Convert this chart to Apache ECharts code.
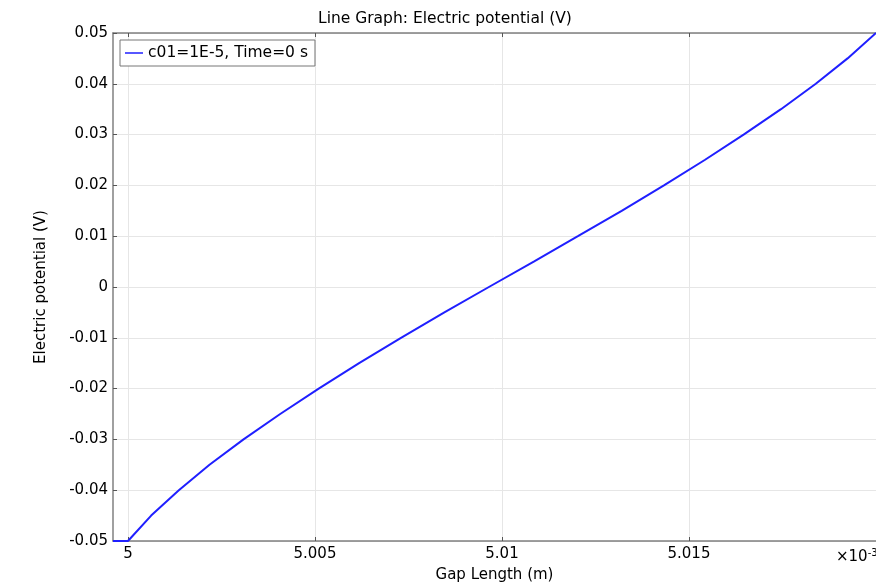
<!DOCTYPE html>
<html>
<head>
<meta charset="utf-8">
<script src="https://cdn.jsdelivr.net/npm/echarts@6/dist/echarts.min.js"></script>
<style>
  html, body { margin: 0; padding: 0; background: #fff; }
  #chart { width: 876px; height: 582px; }
</style>
</head>
<body>
<div id="chart"></div>
<script>
// gap length, in units of 1e-3 m
var gapLength = [4.9996, 5.00000, 5.00062, 5.00136, 5.00218, 5.00309, 5.00407, 5.00510, 5.00618, 5.00730,
                 5.00846, 5.00965, 5.01085, 5.01203, 5.01320, 5.01433, 5.01542, 5.01646, 5.01746, 5.01839,
                 5.01924, 5.02000];
// electric potential (V)
var potential = [-0.050, -0.050, -0.045, -0.040, -0.035, -0.030, -0.025, -0.020, -0.015, -0.010,
                 -0.005, 0.000, 0.005, 0.010, 0.015, 0.020, 0.025, 0.030, 0.035, 0.040,
                 0.045, 0.050];
var xTicks = [5, 5.005, 5.01, 5.015];
var seriesName = 'c01=1E-5, Time=0 s';

var font = 'DejaVu Sans';
var fs = 15;
var points = gapLength.map(function (x, i) { return [x, potential[i]]; });

var chart = echarts.init(document.getElementById('chart'));
chart.setOption({
    animation: false,
    textStyle: { fontFamily: font },
    title: {
        text: 'Line Graph: Electric potential (V)',
        left: 313,
        top: 6,
        textStyle: { fontSize: 15.5, fontWeight: 'normal', color: '#000', fontFamily: font }
    },
    grid: { left: 113, right: 0, top: 33, bottom: 41, outerBoundsMode: 'none', containLabel: false },
    legend: {
        left: 120,
        top: 40,
        orient: 'vertical',
        data: [{ name: seriesName, icon: 'rect' }],
        itemWidth: 18,
        itemHeight: 1.5,
        itemGap: 4,
        padding: [5, 7, 5, 5],
        borderColor: '#777',
        borderWidth: 1,
        backgroundColor: '#fff',
        textStyle: { fontSize: 15.5, color: '#000', fontFamily: font }
    },
    xAxis: [{
        type: 'value',
        min: 4.9996,
        max: 5.0200,
        name: 'Gap Length (m)',
        nameLocation: 'middle',
        nameGap: 27,
        nameTextStyle: { fontSize: fs, color: '#000', fontFamily: font },
        axisLine: { onZero: false, lineStyle: { color: '#808080', width: 1.5 } },
        axisTick: { inside: true, length: 4, customValues: xTicks, lineStyle: { color: '#555' } },
        axisLabel: { customValues: xTicks, fontSize: fs, color: '#000', margin: 6 },
        splitLine: { show: true, customValues: xTicks, lineStyle: { color: '#e6e6e6' } }
    }, {
        type: 'value',
        position: 'top',
        min: 4.9996,
        max: 5.0200,
        axisLine: { show: true, onZero: false, lineStyle: { color: '#808080', width: 1.5 } },
        axisTick: { inside: true, length: 4, customValues: xTicks, lineStyle: { color: '#555' } },
        axisLabel: { show: false },
        splitLine: { show: false }
    }],
    yAxis: {
        type: 'value',
        min: -0.05,
        max: 0.05,
        interval: 0.01,
        name: 'Electric potential (V)',
        nameLocation: 'middle',
        nameGap: 64,
        nameTextStyle: { fontSize: fs, color: '#000', fontFamily: font },
        axisLine: { show: true, onZero: false, lineStyle: { color: '#808080', width: 1.5 } },
        axisTick: { show: true, inside: true, length: 4, lineStyle: { color: '#555' } },
        axisLabel: { fontSize: fs, color: '#000', margin: 5 },
        splitLine: { show: true, lineStyle: { color: '#e6e6e6' } }
    },
    graphic: [{
        type: 'text',
        left: 836,
        top: 548,
        style: {
            text: '{a|×10}{b|-3}',
            rich: {
                a: { fontSize: fs, fill: '#000', fontFamily: font },
                b: { fontSize: 10, fill: '#000', fontFamily: font, padding: [0, 0, 9, 0] }
            }
        }
    }],
    series: [{
        name: seriesName,
        type: 'line',
        xAxisIndex: 0,
        data: points,
        showSymbol: false,
        lineStyle: { color: '#1f1fff', width: 2 },
        itemStyle: { color: '#1f1fff' }
    }]
});
</script>
</body>
</html>
